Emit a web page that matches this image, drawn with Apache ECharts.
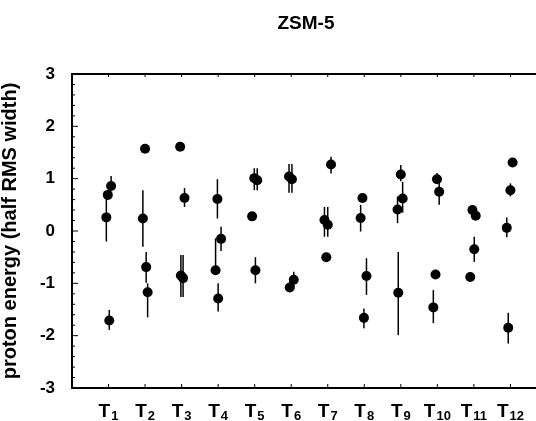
<!doctype html>
<html>
<head>
<meta charset="utf-8">
<title>ZSM-5</title>
<script src="https://cdn.jsdelivr.net/npm/echarts@6/dist/echarts.min.js"></script>
<style>
  html, body { margin: 0; padding: 0; background: #fff; }
  #main { width: 536px; height: 421px; }
</style>
</head>
<body>
<div id="main"></div>
<script>
// x position (site index with small offsets), energy, error bar low/high
var xPos = [0.94, 0.98, 1.07, 1.02,
            2.00, 1.94, 2.03, 2.07,
            2.96, 3.08, 2.98, 3.04,
            3.98, 4.08, 3.93, 4.00,
            4.99, 5.07, 4.93, 5.02,
            5.94, 6.02, 6.07, 5.96,
            7.09, 6.91, 7.00, 6.96,
            7.95, 7.90, 8.06, 7.99,
            9.00, 9.05, 8.91, 8.93,
            9.99, 10.05, 9.95, 9.89,
            10.96, 11.05, 11.01, 10.90,
            12.06, 12.00, 11.90, 11.94];
var energy = [0.26, 0.69, 0.86, -1.71,
              1.57, 0.24, -0.69, -1.17,
              1.61, 0.63, -0.85, -0.90,
              0.61, -0.15, -0.75, -1.29,
              1.01, 0.97, 0.28, -0.75,
              1.04, 0.99, -0.93, -1.08,
              1.27, 0.21, 0.12, -0.50,
              0.63, 0.25, -0.86, -1.66,
              1.08, 0.62, 0.41, -1.18,
              0.99, 0.75, -0.83, -1.46,
              0.40, 0.29, -0.35, -0.88,
              1.31, 0.78, 0.06, -1.85];
var errLow = [-0.20, 0.60, 0.80, -1.89,
              1.57, -0.30, -0.99, -1.65,
              1.61, 0.46, -1.26, -1.26,
              0.24, -0.38, -0.84, -1.54,
              0.78, 0.78, 0.28, -1.00,
              0.73, 0.73, -1.08, -1.08,
              1.10, -0.11, -0.11, -0.50,
              0.58, -0.01, -1.22, -1.86,
              0.95, 0.35, 0.15, -1.99,
              0.90, 0.50, -0.83, -1.76,
              0.33, 0.22, -0.59, -0.88,
              1.31, 0.66, -0.12, -2.15];
var errHigh = [0.69, 0.78, 1.05, -1.51,
               1.57, 0.78, -0.40, -1.00,
               1.61, 0.82, -0.46, -0.46,
               0.99, 0.08, -0.14, -1.00,
               1.20, 1.20, 0.28, -0.50,
               1.28, 1.28, -0.78, -0.93,
               1.42, 0.46, 0.46, -0.50,
               0.68, 0.50, -0.52, -1.48,
               1.26, 0.94, 0.66, -0.40,
               1.11, 0.99, -0.83, -1.13,
               0.47, 0.36, -0.11, -0.88,
               1.31, 0.91, 0.26, -1.56];
var siteLabels = ['1', '2', '3', '4', '5', '6', '7', '8', '9', '10', '11', '12'];

var X_MIN = 0, X_MAX = 12.7, Y_MIN = -3, Y_MAX = 3;

var points = xPos.map(function (x, i) { return [x, energy[i]]; });
var bars = xPos.map(function (x, i) { return [x, errLow[i], errHigh[i]]; });

var chart = echarts.init(document.getElementById('main'));
var font = 'Liberation Sans, Arial, sans-serif';
var black = '#000000';

// frame and inward ticks, placed through the axis scales
function renderFrame(params, api) {
    var tl = api.coord([X_MIN, Y_MAX]);
    var br = api.coord([X_MAX, Y_MIN]);
    var kids = [];
    function seg(x1, y1, x2, y2, w) {
        kids.push({
            type: 'line',
            shape: { x1: x1, y1: y1, x2: x2, y2: y2 },
            style: { stroke: black, lineWidth: w }
        });
    }
    seg(tl[0], tl[1], br[0] + 2, tl[1], 2);
    seg(tl[0], br[1], br[0] + 2, br[1], 2);
    seg(tl[0], tl[1] - 1, tl[0], br[1] + 1, 2);
    for (var k = 1; k <= 12; k++) {
        var px = api.coord([k, 0])[0];
        seg(px, br[1], px, br[1] - 4, 1);
        seg(px, tl[1], px, tl[1] + 3, 1);
    }
    for (var j = 0; j <= 30; j++) {
        var v = Y_MIN + j * 0.2;
        var py = api.coord([0, v])[1];
        seg(tl[0], py, tl[0] + (j % 5 === 0 ? 6 : 3), py, 1);
    }
    return { type: 'group', children: kids };
}

chart.setOption({
    animation: false,
    title: {
        text: 'ZSM-5',
        left: 301,
        top: 9,
        textAlign: 'center',
        textStyle: { fontFamily: font, fontSize: 19, fontWeight: 'bold', color: black }
    },
    grid: { left: 72, right: 0, top: 74, bottom: 33, outerBoundsMode: 'none' },
    xAxis: {
        type: 'value',
        min: X_MIN,
        max: X_MAX,
        interval: 1,
        splitLine: { show: false },
        axisLine: { show: false },
        axisTick: { show: false },
        axisLabel: {
            margin: 12,
            formatter: function (v) {
                var i = Math.round(v);
                if (Math.abs(v - i) > 1e-6 || i < 1 || i > 12) return '';
                return '{t|T}{s|' + siteLabels[i - 1] + '}';
            },
            rich: {
                t: { fontFamily: font, fontSize: 19, fontWeight: 'bold', color: black },
                s: { fontFamily: font, fontSize: 13, fontWeight: 'bold', color: black, padding: [10, 0, 0, 1] }
            }
        }
    },
    yAxis: {
        type: 'value',
        min: Y_MIN,
        max: Y_MAX,
        interval: 1,
        name: 'proton energy (half RMS width)',
        nameLocation: 'middle',
        nameGap: 52,
        nameTextStyle: { fontFamily: font, fontSize: 20, fontWeight: 'bold', color: black },
        splitLine: { show: false },
        axisLine: { show: false },
        axisTick: { show: false },
        axisLabel: {
            margin: 17,
            fontFamily: font,
            fontSize: 17,
            fontWeight: 'bold',
            color: black
        }
    },
    series: [{
        type: 'custom',
        data: [[0, 0]],
        renderItem: renderFrame,
        silent: true,
        z: 0
    }, {
        type: 'custom',
        data: bars,
        renderItem: function (params, api) {
            var top = api.coord([api.value(0), api.value(2)]);
            var bot = api.coord([api.value(0), api.value(1)]);
            return {
                type: 'line',
                shape: { x1: top[0], y1: top[1], x2: bot[0], y2: bot[1] },
                style: { stroke: black, lineWidth: 1.5 }
            };
        },
        z: 1
    }, {
        type: 'scatter',
        data: points,
        symbol: 'circle',
        symbolSize: 10,
        itemStyle: { color: black, opacity: 1 },
        z: 2
    }]
});
</script>
</body>
</html>
